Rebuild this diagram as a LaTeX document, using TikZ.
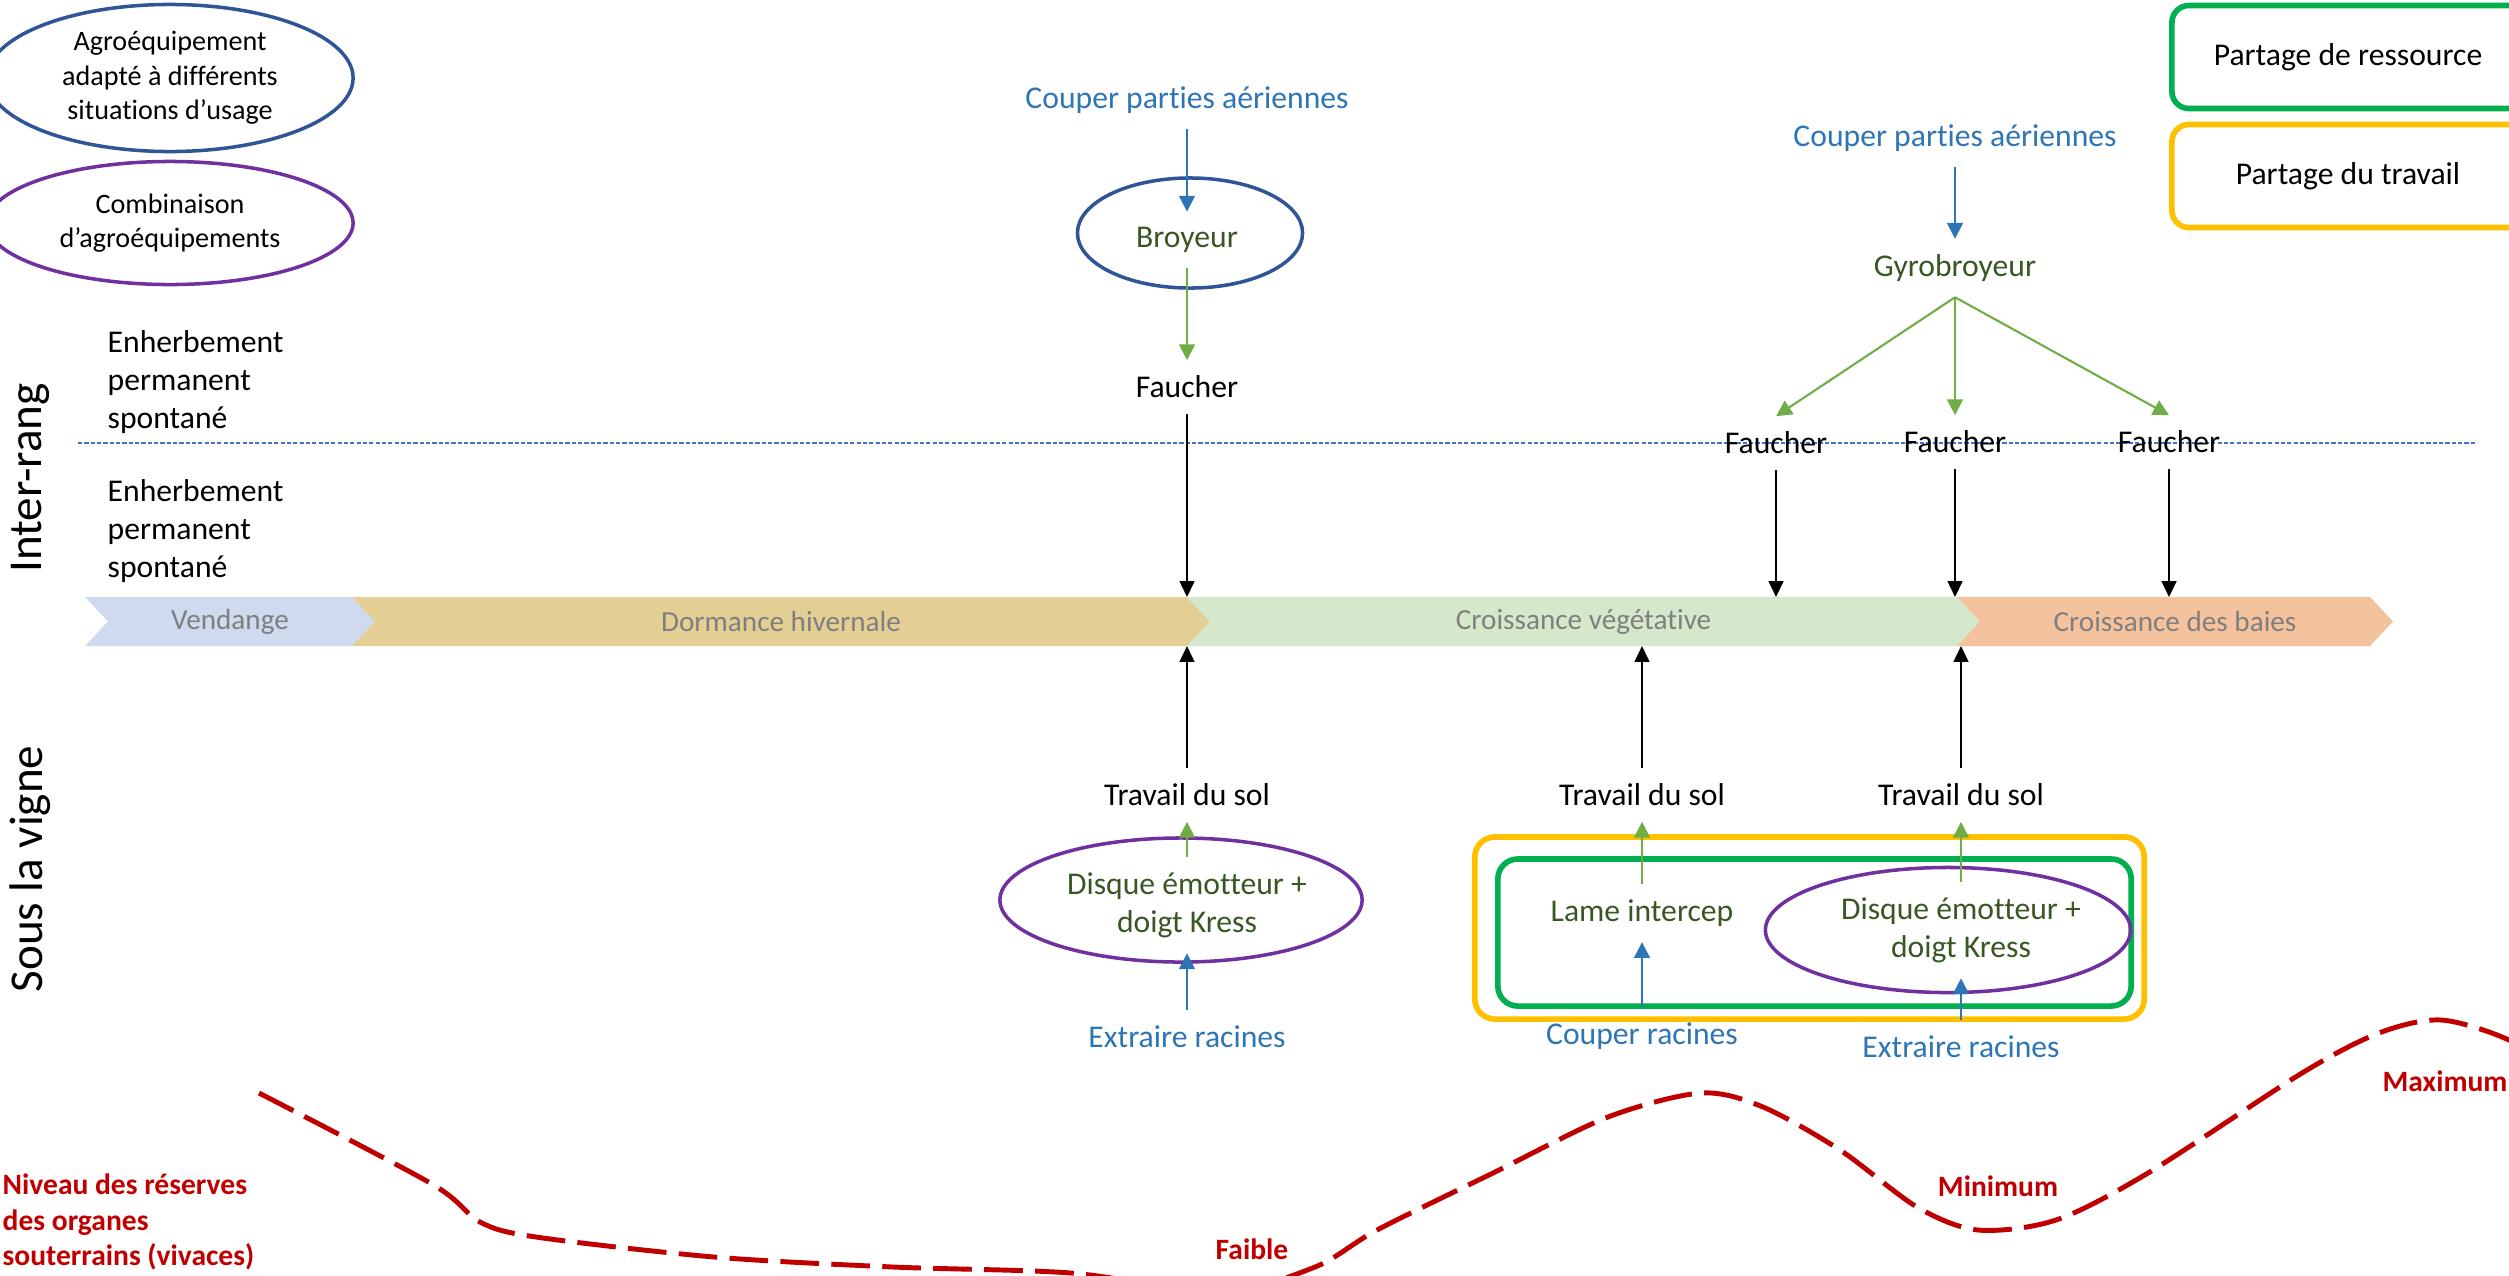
\documentclass[tikz,border=0pt]{standalone}
\usepackage{fontspec}
\setmainfont{Carlito}[Ligatures=CommonOff]
\usepackage{tikz}
\usetikzlibrary{shapes.geometric, arrows.meta}

\definecolor{cutblue}{RGB}{46, 117, 182}
\definecolor{toolgreen}{RGB}{56, 87, 35}
\definecolor{arrowgreen}{RGB}{112, 173, 71}
\definecolor{equipblue}{RGB}{47, 85, 151}
\definecolor{combopurple}{RGB}{112, 48, 160}
\definecolor{sharegreen}{RGB}{0, 176, 80}
\definecolor{shareyellow}{RGB}{255, 192, 0}
\definecolor{reservered}{RGB}{192, 0, 0}
\definecolor{sepblue}{RGB}{68, 114, 196}
\definecolor{phasegray}{RGB}{127, 127, 127}
\definecolor{vendcol}{RGB}{207, 218, 238}
\definecolor{dormcol}{RGB}{227, 206, 148}
\definecolor{vegcol}{RGB}{213, 232, 203}
\definecolor{baiecol}{RGB}{245, 194, 158}

\tikzset{
  lbl/.style={font=\fontsize{9}{10.8}\selectfont, inner xsep=1pt, inner ysep=0.15cm, align=center},
  cut/.style={lbl, text=cutblue},
  tool/.style={lbl, text=toolgreen},
  reserve/.style={font=\bfseries\fontsize{8.4}{10}\selectfont, text=reservered, inner sep=0pt},
  legend/.style={ellipse, line width=1pt, inner sep=0pt, align=center, font=\fontsize{8}{9.8}\selectfont, minimum width=3.66cm},
  ring/.style={ellipse, line width=1pt, inner sep=0pt},
  share/.style={rounded corners=0.17cm, line width=1.6pt, minimum width=3.52cm, minimum height=1.03cm, font=\fontsize{9}{10.8}\selectfont},
  bluearrow/.style={cutblue, line width=0.6pt, -{Triangle[length=4.5pt, width=4.5pt]}},
  greenarrow/.style={arrowgreen, line width=0.6pt, -{Triangle[length=4.5pt, width=4.5pt]}},
  blackarrow/.style={black, line width=0.5pt, -{Triangle[length=4.5pt, width=4.2pt]}},
}

\begin{document}
\begin{tikzpicture}[x=0.01cm, y=-0.01cm]
  \useasboundingbox (0,0) rectangle (2509,1275);

  % phases of the vine
  \coordinate (tltop) at (0,597);
  \coordinate (tlbot) at (0,646);
  \foreach \a/\b/\col/\txt [count=\i] in {85/352/vendcol/Vendange, 352/1187/dormcol/Dormance hivernale, 1187/1957/vegcol/Croissance végétative, 1957/2370/baiecol/Croissance des baies}{
    \fill[\col] (\a,597) -- (\b,597) -- (\b+23,621.5) -- (\b,646) -- (\a,646) -- (\a+23,621.5) -- cycle;
    \node[font=\fontsize{8.3}{10}\selectfont, text=phasegray] (phase\i) at ({(\a+\b)/2+11.5},621.5) {\txt};
  }

  \draw[sepblue, line width=0.45pt, dash pattern=on 1.2pt off 0.6pt] (78,443) -- (2475,443);

  \node[rotate=90, font=\fontsize{13.4}{16}\selectfont] (interrang) at (30,478) {Inter-rang};
  \node[rotate=90, font=\fontsize{13.4}{16}\selectfont] (sousvigne) at (30,869) {Sous la vigne};
  \node[anchor=west, align=left, font=\fontsize{9}{10.8}\selectfont, inner sep=0pt] (enhtop) at (107,382) {Enherbement\\permanent\\spontané};
  \node[anchor=west, align=left, font=\fontsize{9}{10.8}\selectfont, inner sep=0pt] (enhbot) at (107,531) {Enherbement\\permanent\\spontané};

  % legend
  \node[legend, draw=equipblue, minimum height=1.47cm] (legequip) at (170,78) {Agroéquipement\\adapté à différents\\situations d’usage};
  \node[legend, draw=combopurple, minimum height=1.23cm] (legcombo) at (170,223) {Combinaison\\d’agroéquipements};
  \node[share, draw=sharegreen] (legres) at (2348,57) {Partage de ressource};
  \node[share, draw=shareyellow] (legwork) at (2348,176) {Partage du travail};

  % winter pass
  \node[cut] (cutair1) at (1187,100) {Couper parties aériennes};
  \node[tool] (broyeur) at (1187,240) {Broyeur};
  \node[ring, draw=equipblue, minimum width=2.25cm, minimum height=1.1cm] (broyeurring) at (1190,233) {};
  \node[lbl] (fauch1) at (1187,387) {Faucher};
  \node[lbl] (sol1) at (1187,795) {Travail du sol};
  \node[tool] (disque1) at (1187,905) {Disque émotteur +\\doigt Kress};
  \node[ring, draw=combopurple, minimum width=3.62cm, minimum height=1.24cm] (disquering1) at (1181,900) {};
  \node[cut] (extr1) at (1187,1037) {Extraire racines};
  \draw[bluearrow] (cutair1) -- (broyeur);
  \draw[greenarrow] (broyeur) -- (fauch1);
  \draw[blackarrow] (fauch1) -- (fauch1 |- tltop);
  \draw[blackarrow] (sol1) -- (sol1 |- tlbot);
  \draw[greenarrow] (disque1) -- (sol1);
  \draw[bluearrow] (extr1) -- (disque1);

  % spring passes, inter-rang
  \node[cut] (cutair2) at (1955,138) {Couper parties aériennes};
  \node[tool] (gyro) at (1955,268) {Gyrobroyeur};
  \node[lbl] (fauch2) at (1776,443) {Faucher};
  \node[lbl] (fauch3) at (1955,442) {Faucher};
  \node[lbl] (fauch4) at (2169,442) {Faucher};
  \draw[bluearrow] (cutair2) -- (gyro);
  \foreach \f in {fauch2, fauch3, fauch4}{
    \draw[greenarrow] (gyro.south) -- (\f.north);
    \draw[blackarrow] (\f) -- (\f |- tltop);
  }

  % spring passes, sous la vigne
  \node[share, draw=shareyellow, rounded corners=0.2cm, minimum width=6.69cm, minimum height=1.82cm] (workframe) at (1809.5,928) {};
  \node[share, draw=sharegreen, rounded corners=0.2cm, minimum width=6.33cm, minimum height=1.47cm] (resframe) at (1814.5,932.5) {};
  \node[lbl] (sol2) at (1642,795) {Travail du sol};
  \node[lbl] (sol3) at (1961,795) {Travail du sol};
  \node[tool] (lame) at (1642,913) {Lame intercep};
  \node[tool] (disque2) at (1961,930) {Disque émotteur +\\doigt Kress};
  \node[ring, draw=combopurple, minimum width=3.65cm, minimum height=1.25cm] (disquering2) at (1948,930) {};
  \node[cut] (cutroot) at (1642,1036) {Couper racines};
  \node[cut] (extr2) at (1961,1047) {Extraire racines};
  \draw[blackarrow] (sol2) -- (sol2 |- tlbot);
  \draw[blackarrow] (sol3) -- (sol3 |- tlbot);
  \draw[greenarrow] (lame) -- (sol2);
  \draw[greenarrow] (disque2) -- (sol3);
  \draw[bluearrow] (cutroot) -- (lame);
  \draw[bluearrow] (extr2) -- (disque2);

  % reserves
  \draw[reservered, line width=1.4pt, dash pattern=on 11pt off 3.5pt] plot[smooth, tension=0.5] coordinates {
    (259,1093) (432,1184) (480,1222) (536,1237) (714,1257) (893,1267) (1071,1273) (1220,1292)
    (1315,1267) (1377,1230) (1493,1173) (1608,1117) (1701,1093) (1763,1107) (1840,1150)
    (1917,1207) (1978,1230) (2056,1220) (2148,1173) (2302,1073) (2379,1033) (2441,1020) (2509,1040) (2560,1075)};
  \node[reserve, anchor=west, align=left] (reslabel) at (2,1222) {Niveau des réserves\\des organes\\souterrains (vivaces)};
  \node[reserve] (faible) at (1252,1249) {Faible};
  \node[reserve] (minimum) at (1998,1186) {Minimum};
  \node[reserve] (maximum) at (2445,1081) {Maximum};
\end{tikzpicture}
\end{document}
